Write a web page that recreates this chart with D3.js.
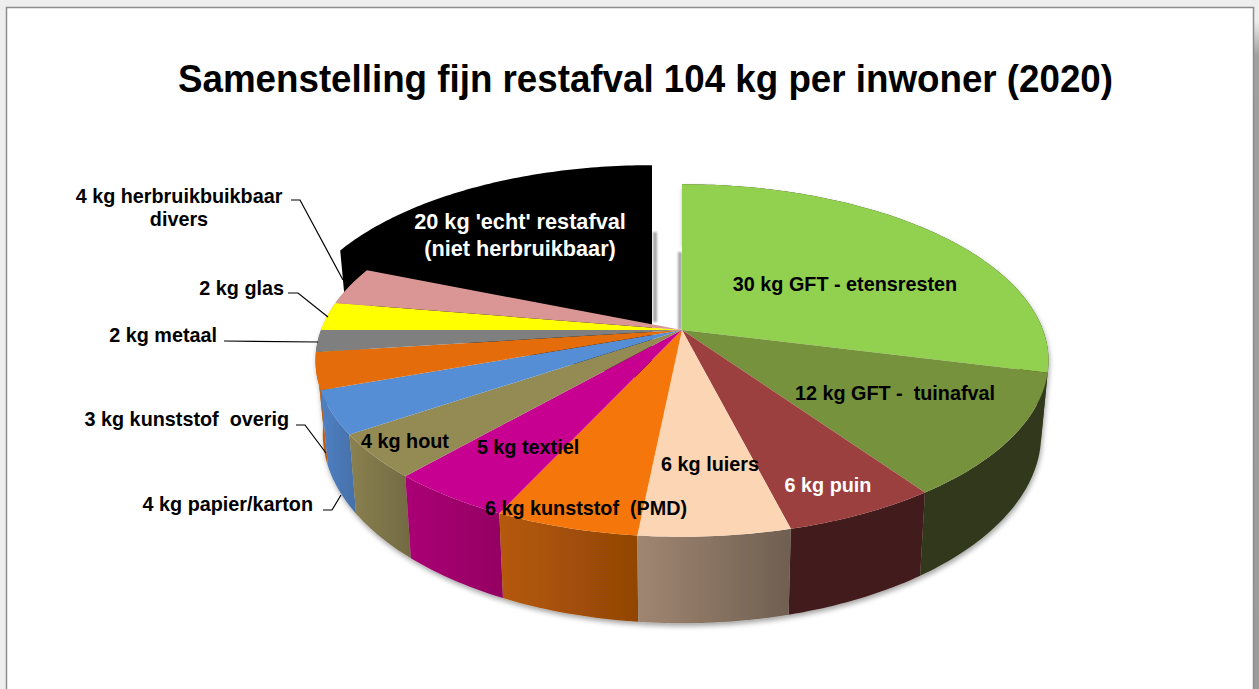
<!DOCTYPE html>
<html>
<head>
<meta charset="utf-8">
<script src="https://cdn.jsdelivr.net/npm/d3@7"></script>
<style>
  html, body { margin: 0; padding: 0; background: #fff; overflow: hidden; }
  svg { display: block; }
  text { font-family: "Liberation Sans", Arial, sans-serif; font-weight: bold; }
</style>
</head>
<body>
<div id="chart"></div>
<script>
const titleText = "Samenstelling fijn restafval 104 kg per inwoner (2020)";

// Slice sizes as measured on the drawing (the printed labels are rounded).
const categories = ["GFT - etensresten", "GFT - tuinafval", "puin", "luiers", "kunststof (PMD)", "textiel",
  "hout", "papier/karton", "kunststof overig", "metaal", "glas", "herbruikbuikbaar divers", "restafval"];
const values = [30, 11.8, 6, 5.9, 5.6, 4.8, 4.2, 4.1, 3.5, 2.1, 2.7, 3.6, 19.7];
const topColors = ["#92d050", "#76923c", "#9c3f3f", "#fcd5b5", "#f5760a", "#c80091",
  "#948a54", "#558ed5", "#e46c0a", "#7f7f7f", "#ffff00", "#d99694", "#000000"];
const wallLight = ["#31391a", "#31391a", "#421a1a", "#a08672", "#b5590a", "#aa0075",
  "#8a8050", "#5080c4", "#d0640c", "#707070", "#cccc00", "#b07a78", "#000000"];
const wallDark = ["#31391a", "#31391a", "#421a1a", "#6f5f50", "#924505", "#940062",
  "#726a42", "#4570a8", "#b85808", "#606060", "#aaaa00", "#a06e6c", "#000000"];

// Text inside the pie: [lines, x, first baseline, colour, font size]
const insideLabels = [
  [["30 kg GFT - etensresten"], 845, 291, "#000", 19.8],
  [["12 kg GFT -  tuinafval"], 895, 400, "#000", 19.8],
  [["6 kg puin"], 828, 492, "#fff", 19.8],
  [["6 kg luiers"], 710, 471, "#000", 19.8],
  [["6 kg kunststof  (PMD)"], 586, 515, "#000", 19.8],
  [["5 kg textiel"], 528, 454, "#000", 19.8],
  [["4 kg hout"], 405, 448, "#000", 19.8],
  [["20 kg 'echt' restafval", "(niet herbruikbaar)"], 520, 229, "#fff", 21.7]
];

// Text outside the pie with its leader line.
const outsideLabels = [
  { lines: ["4 kg herbruikbuikbaar", "divers"], x: 179, y: 203, anchor: "middle", leader: [[291, 200], [300, 200], [343, 280]] },
  { lines: ["2 kg glas"], x: 284, y: 295, anchor: "end", leader: [[288, 293], [298, 293], [328, 317]] },
  { lines: ["2 kg metaal"], x: 217, y: 342, anchor: "end", leader: [[224, 341], [318, 342]] },
  { lines: ["3 kg kunststof  overig"], x: 289, y: 426, anchor: "end", leader: [[296, 425], [305, 425], [326, 453]] },
  { lines: ["4 kg papier/karton"], x: 313, y: 511, anchor: "end", leader: [[323, 510], [332, 510], [341, 495]] }
];

const width = 1259;
const height = 689;

// Pie geometry: a disc seen in perspective.
const cx = 682;
const cy = 330;
const rx = 361;
const ry = 171;
const persp = 0.173;
const depth = 71.5;
const bottomShrink = 0.98;

// The black slice is pulled out of the pie.
const blackIndex = 12;
const blackCx = 652;
const blackCy = 309.5;
const blackScale = 0.99;

const pie = d3.pie().sort(null).value(d => d);
const arcs = pie(values);

function project(theta, ox, oy, scale) {
  const u = Math.sin(theta);
  const v = -Math.cos(theta);
  const k = 1 / (1 - persp * v);
  return { x: ox + rx * u * k * scale, y: oy + ry * v * k * scale, k };
}

function arcPoints(a, ox, oy, scale) {
  const n = Math.max(8, Math.ceil((a.endAngle - a.startAngle) * 60));
  return d3.range(n + 1).map(i => project(a.startAngle + (a.endAngle - a.startAngle) * i / n, ox, oy, scale));
}

const line = d3.line().x(d => d.x).y(d => d.y);

const svg = d3.create("svg")
  .attr("width", width)
  .attr("height", height)
  .attr("viewBox", [0, 0, width, height]);

d3.select("#chart").append(() => svg.node());

const defs = svg.append("defs");

const wallBlur = defs.append("filter").attr("id", "wallShadow")
  .attr("x", "-10%").attr("y", "-10%").attr("width", "120%").attr("height", "125%");
wallBlur.append("feDropShadow")
  .attr("dx", 1).attr("dy", 3).attr("stdDeviation", 2.5)
  .attr("flood-color", "#000").attr("flood-opacity", 0.35);

// userSpaceOnUse because a vertical line has an empty bounding box.
defs.append("filter").attr("id", "soft")
  .attr("filterUnits", "userSpaceOnUse")
  .attr("x", 0).attr("y", 0).attr("width", width).attr("height", height)
  .append("feGaussianBlur").attr("stdDeviation", 1.2);

arcs.forEach((a, i) => {
  const g = defs.append("linearGradient").attr("id", "wall" + i);
  g.append("stop").attr("offset", "0%").attr("stop-color", wallLight[i]);
  g.append("stop").attr("offset", "100%").attr("stop-color", wallDark[i]);
});

// Window background and frame around the chart.
const pageGrad = defs.append("linearGradient").attr("id", "pageRight")
  .attr("x1", 0).attr("y1", 0).attr("x2", 0).attr("y2", 1);
pageGrad.append("stop").attr("offset", "3%").attr("stop-color", "#ededed");
pageGrad.append("stop").attr("offset", "8%").attr("stop-color", "#a0a0a0");
pageGrad.append("stop").attr("offset", "100%").attr("stop-color", "#9c9c9c");

svg.append("rect").attr("width", width).attr("height", height).attr("fill", "#eeeeee");
svg.append("rect").attr("x", 1254).attr("width", 5).attr("height", height).attr("fill", "url(#pageRight)");
svg.append("rect")
  .attr("x", 6.5).attr("y", 7.5)
  .attr("width", 1247).attr("height", height)
  .attr("fill", "#fff")
  .attr("stroke", "#8c8c8c")
  .attr("stroke-width", 1.5);

svg.append("text")
  .attr("x", 645.5).attr("y", 92)
  .attr("text-anchor", "middle")
  .attr("font-size", 38)
  .attr("textLength", 935)
  .attr("lengthAdjust", "spacingAndGlyphs")
  .attr("fill", "#000")
  .text(titleText);

function wallPath(a, ox, oy, scale) {
  const top = arcPoints(a, ox, oy, scale);
  const bottom = top.map(p => ({
    x: ox + (p.x - ox) * bottomShrink,
    y: p.y + depth * p.k
  })).reverse();
  return line(top.concat(bottom)) + "Z";
}

function topPath(a, ox, oy, scale) {
  return line([{ x: ox, y: oy }].concat(arcPoints(a, ox, oy, scale))) + "Z";
}

// Faint shadows along the two cut edges at the gap.
svg.selectAll("line.gap")
  .data([[blackCx + 3, 232, 322], [cx - 2, 252, 330]])
  .join("line")
  .attr("x1", d => d[0]).attr("x2", d => d[0])
  .attr("y1", d => d[1]).attr("y2", d => d[2])
  .attr("stroke", "#a8a8a8")
  .attr("stroke-width", 4)
  .attr("filter", "url(#soft)");

// Black slice first, it sits behind the rest. Top and sides are all black,
// so its whole outline is one shape.
const black = arcs[blackIndex];
const blackArc = arcPoints(black, blackCx, blackCy, blackScale);
const blackStart = blackArc[0];
svg.append("path")
  .attr("d", line(blackArc.concat([
    { x: blackCx, y: blackCy + depth },
    { x: blackCx + (blackStart.x - blackCx) * bottomShrink, y: blackStart.y + depth * blackStart.k }
  ])) + "Z")
  .attr("fill", topColors[blackIndex]);

// Side walls, back to front, the rest of the pie.
const rest = arcs.filter((a, i) => i !== blackIndex)
  .map(a => ({ a, mid: -Math.cos((a.startAngle + a.endAngle) / 2) }))
  .sort((p, q) => p.mid - q.mid);

svg.append("g")
  .attr("filter", "url(#wallShadow)")
  .selectAll("path")
  .data(rest)
  .join("path")
  .attr("d", d => wallPath(d.a, cx, cy, 1))
  .attr("fill", d => `url(#wall${d.a.index})`);

svg.append("g")
  .selectAll("path")
  .data(arcs.filter((a, i) => i !== blackIndex))
  .join("path")
  .attr("d", a => topPath(a, cx, cy, 1))
  .attr("fill", a => topColors[a.index]);

// Leader lines and labels.
svg.append("g")
  .selectAll("path")
  .data(outsideLabels)
  .join("path")
  .attr("d", d => d3.line()(d.leader))
  .attr("fill", "none")
  .attr("stroke", "#000")
  .attr("stroke-width", 1.2);

const labelSize = 19.8;

insideLabels.forEach(([lines, x, y, color, size]) => {
  lines.forEach((t, j) => {
    svg.append("text")
      .attr("x", x).attr("y", y + j * 27)
      .attr("text-anchor", "middle")
      .attr("font-size", size)
      .attr("fill", color)
      .style("white-space", "pre")
      .text(t);
  });
});

outsideLabels.forEach(d => {
  d.lines.forEach((t, j) => {
    svg.append("text")
      .attr("x", d.x).attr("y", d.y + j * 23)
      .attr("text-anchor", d.anchor)
      .attr("font-size", labelSize)
      .attr("fill", "#000")
      .style("white-space", "pre")
      .text(t);
  });
});
</script>
</body>
</html>
